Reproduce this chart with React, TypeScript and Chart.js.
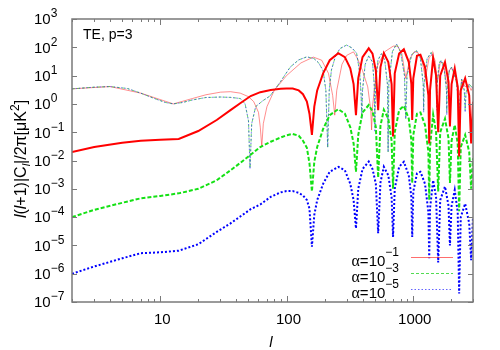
import React, { useEffect, useRef } from "react";
import { Chart, registerables } from "chart.js";
Chart.register(...registerables);

// ---- data (multipole l, |l(l+1)C_l|/2pi in uK^2) ----
const thickL = [2, 3, 5, 7, 10, 14, 20, 28, 36, 43, 52, 62, 75, 90, 100, 112, 125, 135, 145, 152, 159, 166, 175, 195, 220, 257, 290, 320, 340, 355, 370, 400, 448, 480, 510, 532, 555, 590, 640, 680, 698, 720, 780, 850, 930, 975, 990, 1010, 1080, 1150, 1250, 1330, 1350, 1370, 1450, 1530, 1590, 1650, 1800, 1920, 1970, 2030, 2150, 2270, 2330, 2400, 2600, 2800, 2900, 3000];

// alpha = 1e-1 contribution (thick solid red)
const thickRedV = [0.02, 0.03, 0.042, 0.05, 0.054, 0.058, 0.11, 0.27, 0.6, 1.05, 1.9, 2.6, 3.1, 3.4, 3.5, 3.5, 3.0, 2.2, 1.2, 0.45, 0.08, 0.8, 3, 12, 35, 62, 45, 18, 5, 0.4, 8, 45, 92, 60, 15, 0.6, 20, 62, 30, 5, 0.07, 12, 60, 85, 30, 5, 0.27, 8, 50, 55, 20, 2, 0.04, 3, 42, 10, 0.1, 10, 30, 6, 0.16, 5, 18, 4, 0.014, 3, 8, 2, 0.04, 1.2];

// alpha = 1e-3 contribution (thick dashed green)
const thickGreenV = [1e-4, 1.8e-4, 3.2e-4, 4.6e-4, 5.6e-4, 6.9e-4, 1.0e-3, 2.0e-3, 4.5e-3, 8.2e-3, 0.016, 0.03, 0.046, 0.065, 0.078, 0.087, 0.075, 0.05, 0.028, 0.008, 8e-4, 0.009, 0.03, 0.13, 0.4, 0.65, 0.45, 0.15, 0.04, 0.004, 0.08, 0.5, 0.91, 0.55, 0.15, 0.0025, 0.17, 0.62, 0.3, 0.05, 0.001, 0.1, 0.6, 0.85, 0.3, 0.05, 0.0016, 0.08, 0.45, 0.5, 0.18, 0.02, 4e-4, 0.03, 0.42, 0.1, 8e-4, 0.1, 0.3, 0.06, 1.6e-3, 0.05, 0.18, 0.04, 1.6e-4, 0.03, 0.08, 0.02, 1e-3, 0.012];

// alpha = 1e-5 contribution (thick dotted blue)
const thickBlueV = [1e-6, 1.8e-6, 3.5e-6, 5.3e-6, 5.7e-6, 6.5e-6, 1.1e-5, 3.0e-5, 6e-5, 1.05e-4, 1.9e-4, 2.8e-4, 5.2e-4, 7.5e-4, 8.3e-4, 8.3e-4, 7.2e-4, 5.8e-4, 4.0e-4, 2e-4, 9e-6, 1.2e-4, 4e-4, 1.5e-3, 4e-3, 6e-3, 4.5e-3, 1.5e-3, 4e-4, 4e-5, 1e-3, 5e-3, 9.1e-3, 5e-3, 1.5e-3, 2.7e-5, 1.7e-3, 6e-3, 3e-3, 5e-4, 2e-5, 1e-3, 6e-3, 9e-3, 3e-3, 5e-4, 2e-5, 8e-4, 3.5e-3, 4e-3, 1.5e-3, 1.5e-4, 3.5e-6, 2e-4, 2e-3, 5e-4, 2.5e-6, 4e-4, 1.2e-3, 2.5e-4, 1e-5, 2.5e-4, 9e-4, 1.5e-4, 2e-7, 1e-4, 3e-4, 6e-5, 3e-6, 1e-4];

// totals for alpha = 1e-3 and 1e-5 (thin, they overlap)
const thinL = [2, 3, 4, 5.5, 7, 9, 11, 12.7, 15, 18, 23, 30, 36, 43, 47, 50, 51.4, 53, 57, 65, 74, 90, 107, 125, 145, 165, 180, 195, 205, 212, 218, 227, 245, 265, 299, 330, 359, 380, 390, 395, 400, 420, 448, 480, 495, 501, 507, 530, 565, 600, 630, 638, 646, 690, 743, 800, 860, 880, 900, 980, 1070, 1150, 1210, 1220, 1230, 1300, 1400, 1480, 1540, 1550, 1560, 1620, 1680, 1780, 1850, 1860, 1870, 1950, 2030, 2200, 2330, 2340, 2350, 2440, 2560, 2600, 2640, 2800, 3000];
const thinGreenV = [3.4, 3.9, 4.1, 3.5, 2.4, 1.55, 1.12, 1.0, 1.12, 1.38, 1.68, 1.75, 1.7, 1.55, 1.0, 0.25, 0.0054, 0.2, 0.8, 1.3, 1.9, 6.3, 20, 36, 46, 40, 28, 15, 3, 0.028, 3, 16, 50, 90, 120, 95, 62, 13, 2, 0.35, 3, 25, 50, 30, 5, 0.2, 5, 35, 60, 35, 5, 0.02, 5, 70, 130, 70, 10, 0.3, 10, 55, 76, 40, 5, 0.6, 5, 40, 66, 30, 5, 0.8, 5, 28, 35, 15, 3, 0.5, 3, 15, 20, 7, 1, 0.15, 1, 7.4, 3, 0.6, 2.5, 5, 3.5];
const thinBlueV = [3.4, 3.9, 4.1, 3.5, 2.4, 1.55, 1.12, 1.0, 1.12, 1.38, 1.68, 1.75, 1.7, 1.55, 1.0, 0.25, 0.005, 0.2, 0.8, 1.3, 1.9, 6.3, 20, 36, 46, 40, 28, 15, 3, 0.03, 3, 16, 50, 90, 120, 95, 62, 13, 2, 0.3, 3, 25, 50, 30, 5, 0.1, 5, 35, 60, 35, 5, 0.02, 5, 70, 130, 70, 10, 0.3, 10, 55, 76, 40, 5, 0.5, 5, 40, 66, 30, 5, 0.6, 5, 28, 35, 15, 3, 0.4, 3, 15, 20, 7, 1, 0.12, 1, 7.4, 3, 0.5, 2.5, 5, 3.5];

// total for alpha = 1e-1 (thin light red)
const thinRedL = [2, 4, 7, 12.7, 18, 23, 30, 36, 43, 50, 55, 60, 62, 63.7, 65.5, 70, 80, 100, 130, 163, 190, 215, 232, 241, 250, 275, 300, 339, 365, 400, 440, 465, 472, 480, 520, 600, 700, 760, 820, 880, 950, 1030, 1100, 1180, 1260, 1350, 1430, 1500, 1570, 1650, 1750, 1850, 1950, 2050, 2200, 2340, 2450, 2600, 2750, 2900, 3000];
const thinRedV = [3.4, 4.1, 2.4, 1.0, 1.55, 2.1, 2.6, 2.7, 2.4, 1.8, 1.2, 0.5, 0.15, 0.031, 0.2, 0.8, 3, 10, 28, 45, 35, 12, 2, 0.4, 3, 25, 52, 69, 40, 15, 4, 0.6, 0.12, 0.8, 20, 70, 110, 110, 60, 8, 40, 70, 65, 35, 8, 45, 55, 35, 6, 30, 28, 5, 16, 18, 10, 2, 7, 4, 5, 3, 4];

const xMajorTicks = [10, 100, 1000];
const xMajorLabels = ["10", "100", "1000"];
const yExponents = [3, 2, 1, 0, -1, -2, -3, -4, -5, -6, -7];
const legendExps = ["\u22121", "\u22123", "\u22125"];
const panelLabel = "TE, p=3";

const toPts = (ls: number[], vs: number[]) => ls.map((l, i) => ({ x: l, y: vs[i] }));

const SANS = '"Liberation Sans", Arial, sans-serif';
const SERIF = '"Liberation Serif", "DejaVu Serif", serif';

type Run = { t: string; f: string; dy?: number };
function drawRuns(ctx: CanvasRenderingContext2D, runs: Run[], x: number, y: number, align: "left" | "right" | "center") {
  let total = 0;
  for (const r of runs) { ctx.font = r.f; total += ctx.measureText(r.t).width; }
  let cx = align === "left" ? x : align === "right" ? x - total : x - total / 2;
  ctx.textAlign = "left";
  ctx.textBaseline = "alphabetic";
  for (const r of runs) {
    ctx.font = r.f;
    ctx.fillText(r.t, cx, y + (r.dy || 0));
    cx += ctx.measureText(r.t).width;
  }
}

const decorPlugin = {
  id: "decor",
  afterDraw(chart: any) {
    const ctx: CanvasRenderingContext2D = chart.ctx;
    const a = chart.chartArea;
    const xs = chart.scales.x;
    const ys = chart.scales.y;
    ctx.save();
    // border
    ctx.strokeStyle = "#7a7a7a";
    ctx.lineWidth = 1.5;
    ctx.strokeRect(a.left, a.top, a.right - a.left, a.bottom - a.top);
    ctx.lineWidth = 1;
    ctx.beginPath();
    // x ticks (major + minor), bottom & top
    for (let k = 0; k <= 3; k++) {
      for (let m = 1; m <= 9; m++) {
        const v = m * Math.pow(10, k);
        if (v < 2 || v > 3000) continue;
        const px = Math.round(xs.getPixelForValue(v)) + 0.5;
        const len = m === 1 ? 6 : 3;
        ctx.moveTo(px, a.bottom); ctx.lineTo(px, a.bottom - len);
        ctx.moveTo(px, a.top); ctx.lineTo(px, a.top + len);
      }
    }
    // y ticks both sides
    for (const e of yExponents) {
      const py = Math.round(ys.getPixelForValue(Math.pow(10, e))) + 0.5;
      ctx.moveTo(a.left, py); ctx.lineTo(a.left + 5, py);
      ctx.moveTo(a.right, py); ctx.lineTo(a.right - 5, py);
    }
    ctx.stroke();

    ctx.fillStyle = "#000";
    const main = `15px ${SANS}`;
    const sup = `12px ${SANS}`;
    // y tick labels
    for (const e of yExponents) {
      const py = ys.getPixelForValue(Math.pow(10, e));
      const es = e < 0 ? "\u2212" + Math.abs(e) : String(e);
      drawRuns(ctx, [{ t: "10", f: main }, { t: es, f: sup, dy: -7 }], 34, py + 5.3, "left");
    }
    // x tick labels
    xMajorTicks.forEach((v, i) => {
      const px = xs.getPixelForValue(v);
      drawRuns(ctx, [{ t: xMajorLabels[i], f: main }], px + 2, 324, "center");
    });
    // x title
    drawRuns(ctx, [{ t: "l", f: `italic 15px ${SANS}` }], 271, 346.5, "center");
    // y title (rotated)
    ctx.save();
    ctx.translate(25.5, 159);
    ctx.rotate(-Math.PI / 2);
    const it = `italic 16px ${SANS}`;
    const nm = `16px ${SANS}`;
    drawRuns(ctx, [
      { t: "l", f: it }, { t: "(", f: nm }, { t: "l", f: it }, { t: "+1)|C", f: nm },
      { t: "l", f: `italic 11px ${SANS}`, dy: 4 }, { t: "|/2\u03C0[\u03BCK", f: nm },
      { t: "2", f: `12px ${SANS}`, dy: -7 }, { t: "]", f: nm },
    ], 0, 0, "center");
    ctx.restore();
    // panel label
    drawRuns(ctx, [{ t: panelLabel, f: `14px ${SANS}` }], 83, 39, "left");

    // legend
    const legY = [257.5, 273.5, 289.5];
    const styles = [
      { c: "rgba(255,60,60,0.75)", d: [] as number[], w: 1 },
      { c: "rgba(40,210,40,0.8)", d: [3, 2], w: 1 },
      { c: "rgba(60,60,255,0.8)", d: [1.5, 2], w: 1 },
    ];
    legY.forEach((ly, i) => {
      ctx.fillStyle = "#000";
      drawRuns(ctx, [
        { t: "\u03B1", f: `16px ${SERIF}` }, { t: "=10", f: main }, { t: legendExps[i], f: sup, dy: -9.5 },
      ], 399, ly + 8, "right");
      ctx.strokeStyle = styles[i].c;
      ctx.lineWidth = styles[i].w;
      ctx.setLineDash(styles[i].d);
      ctx.beginPath();
      ctx.moveTo(411, ly); ctx.lineTo(453, ly);
      ctx.stroke();
      ctx.setLineDash([]);
    });
    ctx.restore();
  },
};

export default function App() {
  const ref = useRef<HTMLCanvasElement | null>(null);
  useEffect(() => {
    if (!ref.current) return;
    const common = { pointRadius: 0, fill: false, tension: 0 };
    const chart = new Chart(ref.current, {
      type: "line",
      data: {
        datasets: [
          { ...common, label: "alpha=1e-1 part", data: toPts(thickL, thickRedV), borderColor: "#ff0000", borderWidth: 2, order: 0 },
          { ...common, label: "alpha=1e-3 part", data: toPts(thickL, thickGreenV), borderColor: "rgb(20,225,20)", borderWidth: 2, borderDash: [4, 2], order: 1 },
          { ...common, label: "alpha=1e-5 part", data: toPts(thickL, thickBlueV), borderColor: "#0000ff", borderWidth: 2, borderDash: [2, 2], order: 2 },
          { ...common, label: "alpha=1e-5", data: toPts(thinL, thinBlueV), borderColor: "rgba(40,40,255,0.6)", borderWidth: 1, borderDash: [1.5, 2], order: 3 },
          { ...common, label: "alpha=1e-3", data: toPts(thinL, thinGreenV), borderColor: "rgba(30,200,30,0.65)", borderWidth: 1, borderDash: [3, 2], order: 4 },
          { ...common, label: "alpha=1e-1", data: toPts(thinRedL, thinRedV), borderColor: "rgba(255,50,50,0.55)", borderWidth: 1, order: 5 },
        ],
      },
      options: {
        animation: false,
        responsive: false,
        devicePixelRatio: 1,
        layout: { padding: { left: 72, right: 27, top: 19, bottom: 48 } },
        plugins: { legend: { display: false }, tooltip: { enabled: false } },
        scales: {
          x: { type: "logarithmic", min: 2, max: 3000, display: false },
          y: { type: "logarithmic", min: 1e-7, max: 1e3, display: false },
        },
      },
      plugins: [decorPlugin],
    } as any);
    return () => chart.destroy();
  }, []);
  return (
    <div style={{ position: "fixed", left: 0, top: 0, width: 500, height: 350, background: "#fff" }}>
      <canvas ref={ref} width={500} height={350} />
    </div>
  );
}
